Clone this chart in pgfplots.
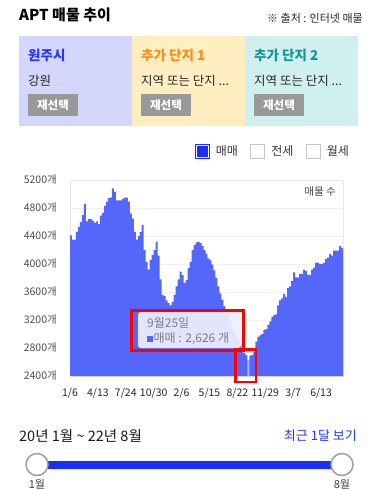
\documentclass[border=0pt]{standalone}
\usepackage{fontspec}
\setmainfont{Noto Sans CJK KR}
\usepackage{pgfplots}
\pgfplotsset{compat=1.18}
\definecolor{barblue}{RGB}{85,102,250}
\definecolor{lightbar}{RGB}{170,178,250}
\definecolor{cbblue}{RGB}{30,45,240}
\definecolor{panelA}{RGB}{213,214,252}
\definecolor{panelB}{RGB}{255,238,194}
\definecolor{panelC}{RGB}{207,240,239}
\definecolor{titleA}{RGB}{40,55,240}
\definecolor{titleB}{RGB}{255,140,30}
\definecolor{titleC}{RGB}{20,150,150}
\definecolor{btngray}{RGB}{153,153,153}
\definecolor{linkblue}{RGB}{35,55,235}
\definecolor{sliderblue}{RGB}{28,45,245}
\definecolor{tipfill}{RGB}{238,240,253}
\definecolor{tiptext}{RGB}{125,125,130}
\begin{document}
\begin{tikzpicture}[x=1pt,y=1pt]
\path[use as bounding box] (0,0) rectangle (369,-490);
% header
\node[anchor=west, inner sep=0pt, font=\fontsize{15}{17}\selectfont\bfseries] at (19,-15) {APT 매물 추이};
\node[anchor=east, inner sep=0pt, font=\fontsize{11}{13}\selectfont, text=black!85] at (363,-18) {※ 출처 : 인터넷 매물};
% panels
\fill[panelA] (19,-36) rectangle (132,-126);
\fill[panelB] (132,-36) rectangle (245,-126);
\fill[panelC] (245,-36) rectangle (358,-126);
\node[anchor=west, inner sep=0pt, font=\fontsize{13.5}{15}\selectfont\bfseries, text=titleA] at (28,-55.5) {원주시};
\node[anchor=west, inner sep=0pt, font=\fontsize{13.5}{15}\selectfont\bfseries, text=titleB] at (141,-55.5) {추가 단지 1};
\node[anchor=west, inner sep=0pt, font=\fontsize{13.5}{15}\selectfont\bfseries, text=titleC] at (254,-55.5) {추가 단지 2};
\node[anchor=west, inner sep=0pt, font=\fontsize{12.5}{14}\selectfont, text=black!85] at (28,-81) {강원};
\node[anchor=west, inner sep=0pt, font=\fontsize{12.5}{14}\selectfont, text=black!85] at (141,-81) {지역 또는 단지 ...};
\node[anchor=west, inner sep=0pt, font=\fontsize{12.5}{14}\selectfont, text=black!85] at (254,-81) {지역 또는 단지 ...};
\foreach \bx in {28,141,254}{
  \fill[btngray] (\bx,-94) rectangle ({\bx+50},-116);
  \node[text=white, inner sep=0pt, font=\fontsize{11.5}{13}\selectfont\bfseries] at ({\bx+25},-105) {재선택};
}
% chart
\begin{axis}[
  at={(70pt,-376pt)}, anchor=south west,
  width=273pt, height=196pt, scale only axis,
  xmin=0, xmax=137, ymin=2400, ymax=5200,
  ytick={2400,2800,...,5200},
  xtick={0,14,...,126},
  xticklabels={1/6,4/13,7/24,10/30,2/6,5/15,8/22,11/29,3/7,6/13},
  major tick length=0pt,
  ymajorgrids, grid style={gray!12, line width=0.7pt},
  axis line style={gray!18, line width=0.7pt},
  yticklabel={\pgfmathprintnumber[fixed, precision=0, 1000 sep={}, assume math mode=true]{\tick}개},
  yticklabel style={inner sep=0pt, anchor=east, xshift=-13pt, font=\fontsize{10.5}{12}\selectfont, text=black!70},
  xticklabel style={inner sep=0pt, anchor=north, yshift=-11.5pt, font=\fontsize{10.5}{12}\selectfont, text=black!85},
  legend style={at={(rel axis cs:1.03,1.105)}, anchor=south east, draw=none, fill=none,
    inner sep=0pt, font=\fontsize{12}{14}\selectfont, text=black!80,
    /tikz/every even column/.append style={column sep=10pt}},
  legend columns=3,
  clip=true,
]
\addplot[fill=barblue, draw=none, const plot mark left, forget plot] coordinates {
(0,4410)(1,4350)(2,4350)(3,4460)(4,4530)(5,4600)(6,4700)(7,4860)(8,4610)(9,4640)
(10,4640)(11,4620)(12,4590)(13,4610)(14,4570)(15,4690)(16,4730)(17,4830)(18,4890)(19,4940)
(20,4950)(21,5080)(22,5030)(23,4910)(24,4910)(25,4910)(26,4930)(27,4950)(28,4950)(29,4890)
(30,4720)(31,4650)(32,4460)(33,4350)(34,4400)(35,4460)(36,4560)(37,4200)(38,4030)(39,3920)
(40,4060)(41,4130)(42,4200)(43,4320)(44,4120)(45,3780)(46,3560)(47,3540)(48,3480)(49,3440)
(50,3410)(51,3460)(52,3560)(53,3680)(54,3780)(55,3890)(56,3840)(57,3730)(58,3770)(59,3940)
(60,4030)(61,4200)(62,4270)(63,4310)(64,4320)(65,4300)(66,4260)(67,4200)(68,4150)(69,4080)
(70,4060)(71,3990)(72,3910)(73,3800)(74,3680)(75,3580)(76,3490)(77,3400)(78,3340)(79,3300)
(80,3200)(81,3110)(82,3050)(83,2980)(84,2920)(85,2860)(86,2780)(87,2730)(88,2700)(89,2626)
(90,2690)(91,2700)(92,2750)(93,2890)(94,2960)(95,2980)(96,3000)(97,3060)(98,3070)(99,3130)
(100,3180)(101,3250)(102,3270)(103,3280)(104,3410)(105,3480)(106,3510)(107,3570)(108,3530)(109,3660)
(110,3680)(111,3760)(112,3880)(113,3810)(114,3810)(115,3860)(116,3860)(117,3920)(118,3900)(119,3840)
(120,3840)(121,3920)(122,3950)(123,4020)(124,4020)(125,4000)(126,4000)(127,4020)(128,4070)(129,4090)
(130,4140)(131,4120)(132,4190)(133,4190)(134,4190)(135,4260)(136,4230)(137,4230)
} \closedcycle;
\addplot[fill=lightbar, draw=none, const plot mark left, forget plot] coordinates {(89,2626)(90,2626)} \closedcycle;
\addlegendimage{legend image code/.code={
  \path[draw=none, fill=none] (0pt,-7pt) rectangle (19pt,7pt);
  \draw[draw=cbblue, line width=0.9pt, fill=white] (0pt,-7pt) rectangle (14pt,7pt);
  \fill[cbblue] (2pt,-5pt) rectangle (12pt,5pt);}}
\addlegendentry{매매}
\addlegendimage{legend image code/.code={
  \path[draw=none, fill=none] (0pt,-7pt) rectangle (19pt,7pt);
  \draw[draw=gray!45, line width=0.8pt, fill=white] (0pt,-7pt) rectangle (14pt,7pt);}}
\addlegendentry{전세}
\addlegendimage{legend image code/.code={
  \path[draw=none, fill=none] (0pt,-7pt) rectangle (19pt,7pt);
  \draw[draw=gray!45, line width=0.8pt, fill=white] (0pt,-7pt) rectangle (14pt,7pt);}}
\addlegendentry{월세}
\node[anchor=east, inner sep=0pt, font=\fontsize{10.5}{12}\selectfont, text=black!75] at (rel axis cs:0.974,0.939) {매물 수};
\end{axis}
% tooltip
\fill[tipfill, opacity=0.92, rounded corners=3pt] (138,-312) rectangle (241,-348);
\node[anchor=west, inner sep=0pt, font=\fontsize{12}{14}\selectfont, text=tiptext] at (147,-322.5) {9월25일};
\fill[barblue] (147.3,-335.7) rectangle (152.7,-342.3);
\node[anchor=west, inner sep=0pt, font=\fontsize{12}{14}\selectfont, text=tiptext] at (153.5,-338.5) {매매 : 2,626 개};
% red annotation boxes
\draw[red, line width=2.8pt] (131.5,-310.5) rectangle (243.5,-350.5);
\draw[red, line width=2.8pt] (235.5,-349.5) rectangle (256,-382);
% bottom
\node[anchor=west, inner sep=0pt, font=\fontsize{14.5}{16}\selectfont, text=black!90] at (19,-436) {20년 1월 \textasciitilde{} 22년 8월};
\node[anchor=east, inner sep=0pt, font=\fontsize{13}{15}\selectfont, text=linkblue] at (357,-436) {최근 1달 보기};
\draw[sliderblue, line width=8pt] (37,-464.5) -- (342,-464.5);
\draw[gray!75, line width=1.5pt, fill=white] (37,-464.5) circle (11pt);
\draw[gray!75, line width=1.5pt, fill=white] (342,-464.5) circle (11pt);
\node[anchor=base, inner sep=0pt, font=\fontsize{11}{13}\selectfont, text=black!75] at (37,-488) {1월};
\node[anchor=base, inner sep=0pt, font=\fontsize{11}{13}\selectfont, text=black!75] at (342,-488) {8월};
\end{tikzpicture}
\end{document}
